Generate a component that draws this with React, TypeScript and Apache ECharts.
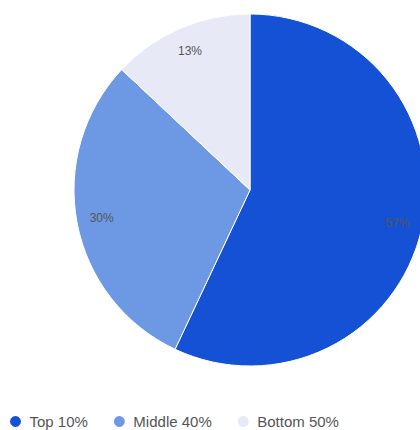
import React, { useEffect, useRef } from "react";
import * as echarts from "echarts";

const categories = ["Top 10%", "Middle 40%", "Bottom 50%"];
const values = [57, 30, 13];
const colors = ["#1451d4", "#6d98e4", "#e7eaf6"];

export default function App() {
  const ref = useRef<HTMLDivElement>(null);
  useEffect(() => {
    document.body.style.margin = "0";
    const chart = echarts.init(ref.current!, undefined, { renderer: "svg" });
    const data = categories.map((name, i) => ({ name, value: values[i], itemStyle: { color: colors[i] } }));
    chart.setOption({
      animation: false,
      legend: {
        top: 409,
        left: 3,
        icon: "circle",
        itemWidth: 18,
        itemHeight: 13,
        itemGap: 24,
        textStyle: { color: "#555", fontSize: 15, fontFamily: "Arial" },
        data: categories,
      },
      series: [
        {
          type: "pie",
          center: [250, 190],
          radius: [0, 176],
          startAngle: 90,
          clockwise: true,
          label: { show: false },
          labelLine: { show: false },
          itemStyle: { borderColor: "#ffffff", borderWidth: 1 },
          data,
          silent: true,
        },
        {
          type: "pie",
          center: [250, 190],
          radius: [120, 176],
          startAngle: 90,
          clockwise: true,
          silent: true,
          legendHoverLink: false,
          label: {
            show: true,
            position: "inside",
            formatter: "{c}%",
            color: "#555",
            fontSize: 12,
            fontFamily: "Arial",
          },
          labelLine: { show: false },
          itemStyle: { color: "transparent" },
          data: categories.map((name, i) => ({ name: name + " ", value: values[i], itemStyle: { color: "rgba(0,0,0,0)" } })),
        },
      ],
    });
    return () => chart.dispose();
  }, []);
  return <div ref={ref} style={{ width: 420, height: 430 }} />;
}
